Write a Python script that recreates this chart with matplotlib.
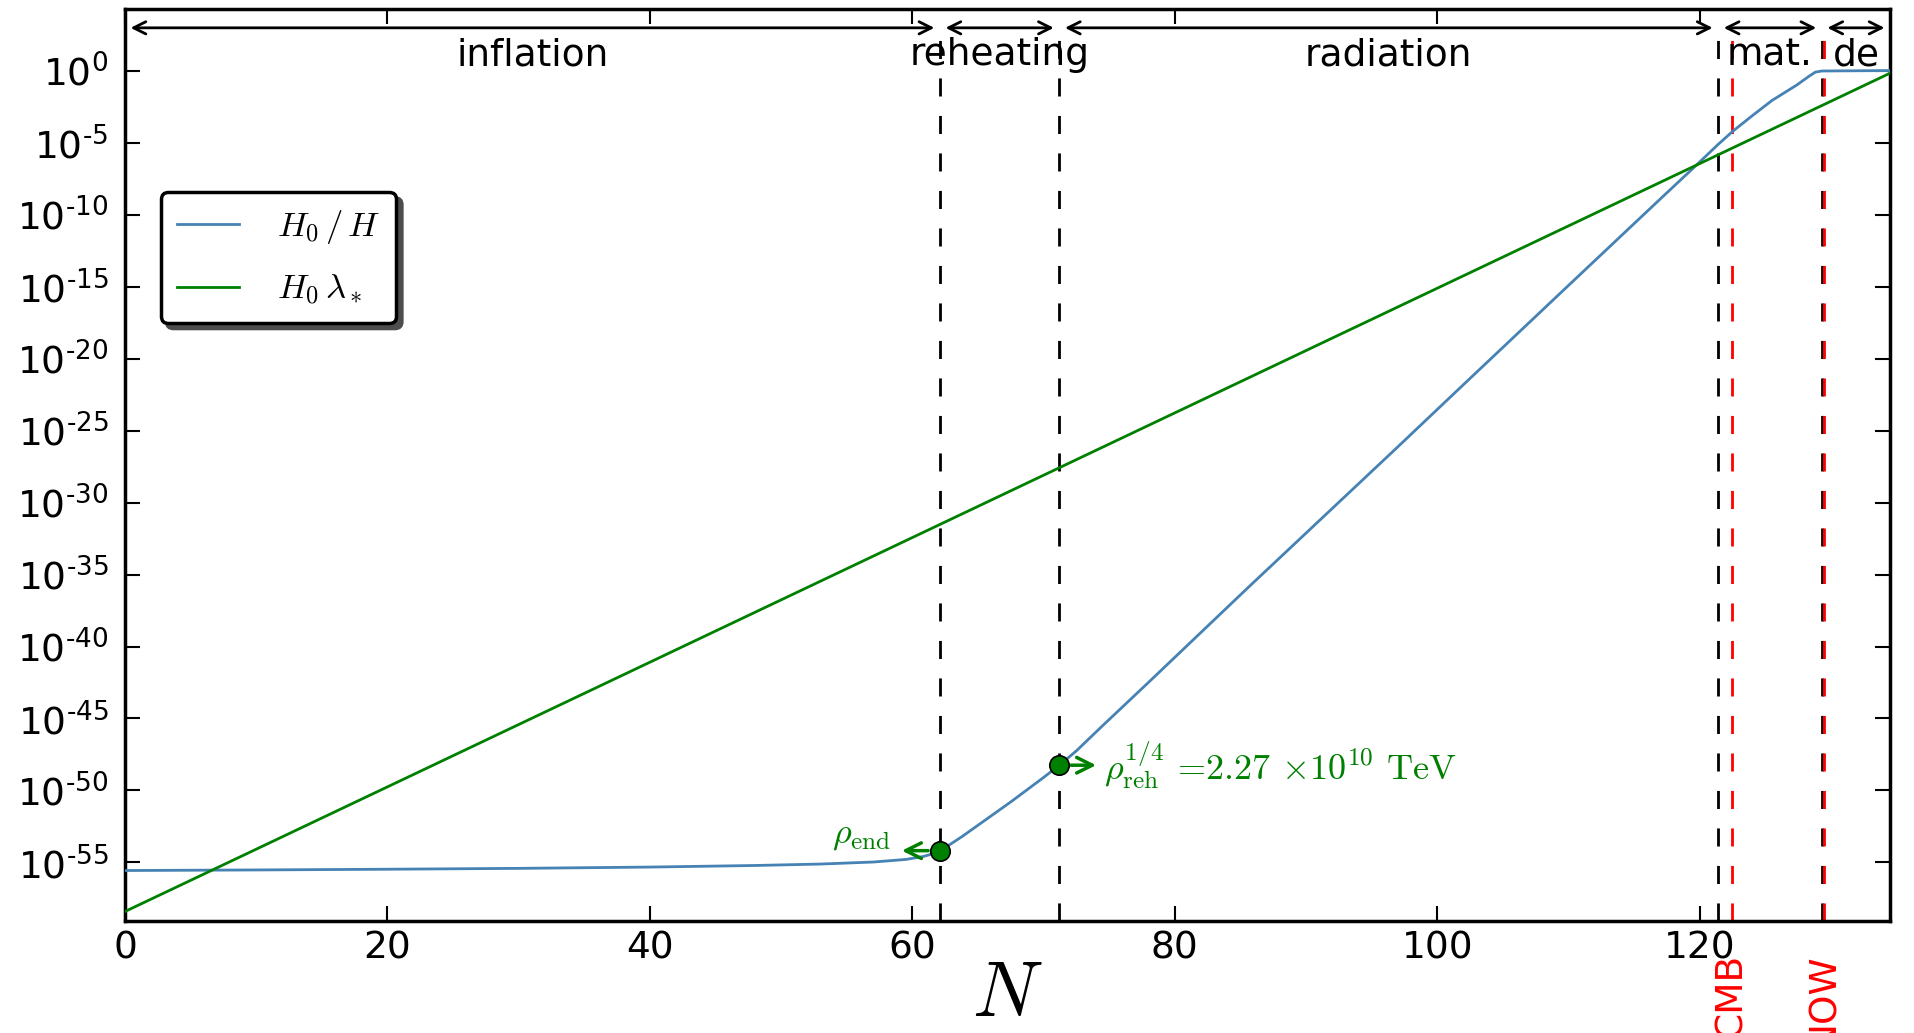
import numpy as np
import matplotlib
matplotlib.use("Agg")
import matplotlib.pyplot as plt
from matplotlib.patches import Shadow
from matplotlib.ticker import FixedLocator, NullLocator

# ---------------- data ----------------
N_blue = [0, 10, 20, 30, 40, 48, 53, 57, 59.5, 60.8, 61.6, 62.1, 62.8, 63.8,
          67.5, 70.0, 71.2, 72.5, 74.5, 78.1, 85.7, 96.9, 101.7, 110.0, 117.1,
          119.5, 121.4, 122.5, 123.8, 125.5, 127.4, 128.3, 128.8, 129.3, 134.5]
log_blue = [-55.57, -55.53, -55.48, -55.42, -55.33, -55.22, -55.12, -54.98, -54.80,
            -54.60, -54.40, -54.19, -53.80, -53.20, -50.80, -49.10, -48.25, -47.25,
            -45.50, -42.40, -35.80, -26.20, -22.05, -14.90, -8.80, -6.75, -5.10,
            -4.20, -3.25, -2.05, -0.97, -0.38, -0.08, 0.0, 0.03]

N_green = [0, 134.5]
log_green = [-58.42, -0.15]

# era boundaries (e-folds)
N_bounds = [0, 62.1, 71.2, 121.4, 129.3, 134.5]
era_labels = ["inflation", "reheating", "radiation", "mat.", "de"]

# special epochs
N_cmb = 122.44
N_now = 129.45

# marked points
N_end, log_end = 62.1, -54.19
N_reh, log_reh = 71.2, -48.25

xticks = [0, 20, 40, 60, 80, 100, 120]
yexp = [0, -5, -10, -15, -20, -25, -30, -35, -40, -45, -50, -55]

# ---------------- style ----------------
plt.rcParams["font.family"] = ["DejaVu Sans"]
plt.rcParams["mathtext.fontset"] = "dejavusans"
plt.rcParams["lines.scale_dashes"] = False

blue = "#4682b4"
green = "#008000"

fig = plt.figure(figsize=(19.14, 10.33), dpi=100)
ax = fig.add_axes([0.0653, 0.1084, 0.9875 - 0.0653, 0.9913 - 0.1084])

ax.plot(N_blue, 10.0 ** np.array(log_blue), color=blue, lw=2.0, label=r"$H_0\,/\,H$", zorder=3)
ax.plot(N_green, 10.0 ** np.array(log_green), color=green, lw=2.0, label=r"$H_0\,\lambda_*$", zorder=3)

ax.set_yscale("log")
ax.set_xlim(0, 134.5)
ax.set_ylim(10 ** -59.08, 10 ** 4.31)

ytop = 10 ** 3.0
ybot = 10 ** -59.08
# vertical dashed era lines
for xb in N_bounds[1:-1]:
    ax.plot([xb, xb], [ybot, ytop], color="black", lw=2.0, dashes=(13, 14), zorder=2)
for xr in [N_cmb, N_now]:
    ax.plot([xr, xr], [ybot, 10 ** 2.85], color="red", lw=2.0, dashes=(13, 14), zorder=2)

# era arrows and labels
for i in range(len(era_labels)):
    a, b = N_bounds[i], N_bounds[i + 1]
    ax.annotate("", xy=(a, ytop), xytext=(b, ytop),
                arrowprops=dict(arrowstyle="<->", color="black", lw=2.0,
                                shrinkA=4, shrinkB=4, mutation_scale=22))
    ax.text((a + b) / 2, 10 ** 1.1, era_labels[i], fontsize=27, ha="center", va="center")

# CMB / NOW labels below the axis
trans = matplotlib.transforms.blended_transform_factory(ax.transData, ax.transAxes)
ax.text(N_cmb, -0.035, "CMB", color="red", fontsize=27, rotation=90,
        ha="center", va="top", transform=trans, clip_on=False)
ax.text(N_now, -0.035, "NOW", color="red", fontsize=27, rotation=90,
        ha="center", va="top", transform=trans, clip_on=False)

# points and annotations
ax.plot([N_end, N_reh], [10 ** log_end, 10 ** log_reh], "o", color=green,
        markeredgecolor="black", markeredgewidth=1.2, markersize=14, zorder=5)
ax.annotate("", xy=(59.2, 10 ** log_end), xytext=(61.2, 10 ** log_end),
            arrowprops=dict(arrowstyle="->", color=green, lw=2.5,
                            shrinkA=0, shrinkB=0, mutation_scale=28))
ax.text(58.4, 10 ** -53.1, r"$\rho_{\rm end}$", color=green, fontsize=26,
        ha="right", va="center", math_fontfamily="cm")
ax.annotate("", xy=(74.0, 10 ** log_reh), xytext=(72.1, 10 ** log_reh),
            arrowprops=dict(arrowstyle="->", color=green, lw=2.5,
                            shrinkA=0, shrinkB=0, mutation_scale=28))
ax.text(74.6, 10 ** log_reh,
        r"$\rho_{\rm reh}^{1/4}$ =2.27 $\times$10$^{10}$ TeV",
        color=green, fontsize=26, ha="left", va="center",
        family="cmr10", math_fontfamily="cm")

# ticks
ax.xaxis.set_major_locator(FixedLocator(xticks))
ax.set_xticklabels([str(t) for t in xticks])
ax.yaxis.set_major_locator(FixedLocator([10.0 ** e for e in yexp]))
ax.yaxis.set_minor_locator(NullLocator())
ax.set_yticklabels([r"$10^{\text{%d}}$" % e if e != 0 else r"$10^{0}$" for e in yexp])
ax.tick_params(axis="both", which="major", direction="in", length=11, width=1.5,
               top=True, right=True, labelsize=27)
ax.tick_params(axis="x", pad=7)
ax.tick_params(axis="y", pad=12)
for s in ax.spines.values():
    s.set_linewidth(2.5)

ax.set_xlabel("$N$", fontsize=56, math_fontfamily="cm", labelpad=-8)

leg = ax.legend(loc="upper left", bbox_to_anchor=(0.0204, 0.799), borderaxespad=0,
                prop=dict(size=25, math_fontfamily="cm"), handlelength=1.8,
                handletextpad=1.1, labelspacing=0.75, borderpad=0.45,
                fancybox=True, framealpha=1, edgecolor="black")
leg.get_frame().set_linewidth(2.5)
leg.set_zorder(10)

fig.canvas.draw()
sh = Shadow(leg.legendPatch, 4, -4, facecolor="0.3", edgecolor="0.3", alpha=1)
sh.set_zorder(9.9)
ax.add_artist(sh)

fig.savefig("out.png", dpi=100)
